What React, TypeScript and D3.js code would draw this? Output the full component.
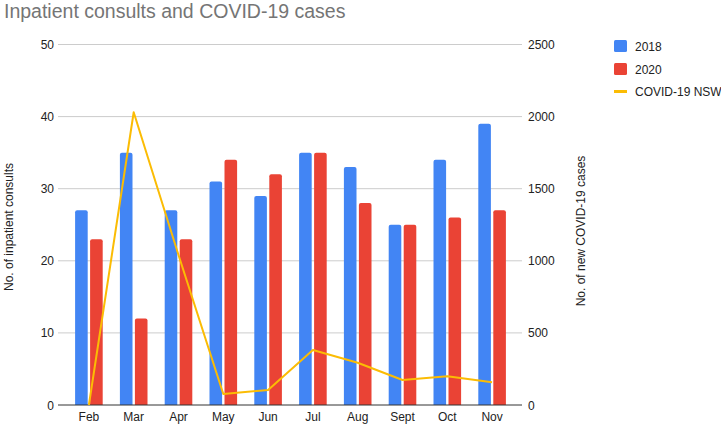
import React from "react";
import * as d3 from "d3";

const months = ["Feb", "Mar", "Apr", "May", "Jun", "Jul", "Aug", "Sept", "Oct", "Nov"];
const consults2018 = [27, 35, 27, 31, 29, 35, 33, 25, 34, 39];
const consults2020 = [23, 12, 23, 34, 32, 35, 28, 25, 26, 27];
const covidNSW = [0, 2030, 1040, 76, 104, 381, 293, 173, 199, 157];
const leftTicks = [0, 10, 20, 30, 40, 50];
const rightTicks = [0, 500, 1000, 1500, 2000, 2500];
const seriesNames = ["2018", "2020", "COVID-19 NSW"];

const W = 721;
const H = 425;
const FONT = "'Liberation Sans', Arial, sans-serif";
const BLUE = "#4285F4";
const RED = "#EA4335";
const YELLOW = "#FBBC04";

function topRounded(x: number, y: number, w: number, h: number, r: number) {
  const rr = Math.min(r, h, w / 2);
  return `M${x},${y + h}V${y + rr}Q${x},${y} ${x + rr},${y}H${x + w - rr}Q${x + w},${y} ${x + w},${y + rr}V${y + h}Z`;
}

export default function App() {
  const plotL = 58;
  const plotR = 522;
  const x = d3.scaleBand<string>().domain(months).range([66.5, 514.5]).paddingInner(0).paddingOuter(0);
  const yL = d3.scaleLinear().domain([0, 50]).range([405, 44.5]);
  const yR = d3.scaleLinear().domain([0, 2500]).range([405, 44.5]);
  const barW = 12.6;
  const gap = 2.4;

  const line = d3
    .line<number>()
    .x((_, i) => (x(months[i]) as number) + x.bandwidth() / 2)
    .y((d) => yR(d));

  return (
    <svg width={W} height={H} style={{ position: "absolute", left: 0, top: 0, background: "#fff" }} fontFamily={FONT}>
      <rect width={W} height={H} fill="#fff" />
      <text x={4} y={18} fontSize={19.5} fill="#757575">
        Inpatient consults and COVID-19 cases
      </text>
      {leftTicks.map((t) => (
        <g key={"g" + t}>
          {t !== 0 && <line x1={plotL} x2={plotR} y1={yL(t)} y2={yL(t)} stroke="#cccccc" strokeWidth={1} />}
          <text x={54} y={yL(t) + 4.5} fontSize={12} fill="#222" textAnchor="end">
            {t}
          </text>
        </g>
      ))}
      {rightTicks.map((t) => (
        <text key={"r" + t} x={528} y={yR(t) + 4.5} fontSize={12} fill="#222" textAnchor="start">
          {t}
        </text>
      ))}
      {months.map((m, i) => {
        const cx = (x(m) as number) + x.bandwidth() / 2;
        const a = consults2018[i];
        const b = consults2020[i];
        return (
          <g key={m}>
            <path d={topRounded(cx - gap / 2 - barW, yL(a), barW, yL(0) - yL(a), 2)} fill={BLUE} />
            <path d={topRounded(cx + gap / 2, yL(b), barW, yL(0) - yL(b), 2)} fill={RED} />
            <text x={cx} y={421} fontSize={12} fill="#222" textAnchor="middle">
              {m}
            </text>
          </g>
        );
      })}
      <line x1={plotL} x2={plotR} y1={405} y2={405} stroke="#333" strokeWidth={1} />
      <path d={line(covidNSW) || ""} fill="none" stroke={YELLOW} strokeWidth={2} strokeLinejoin="round" />
      <text transform={`translate(13,227) rotate(-90)`} fontSize={12} fill="#222" textAnchor="middle">
        No. of inpatient consults
      </text>
      <text transform={`translate(585,231) rotate(-90)`} fontSize={12} fill="#222" textAnchor="middle">
        No. of new COVID-19 cases
      </text>
      <rect x={614} y={40} width={13} height={12} rx={1.5} fill={BLUE} />
      <text x={635} y={50.5} fontSize={12} fill="#222">{seriesNames[0]}</text>
      <rect x={614} y={63} width={13} height={12} rx={1.5} fill={RED} />
      <text x={635} y={73.5} fontSize={12} fill="#222">{seriesNames[1]}</text>
      <rect x={614} y={90} width={13} height={3} fill={YELLOW} />
      <text x={635} y={96} fontSize={12} fill="#222">{seriesNames[2]}</text>
    </svg>
  );
}
